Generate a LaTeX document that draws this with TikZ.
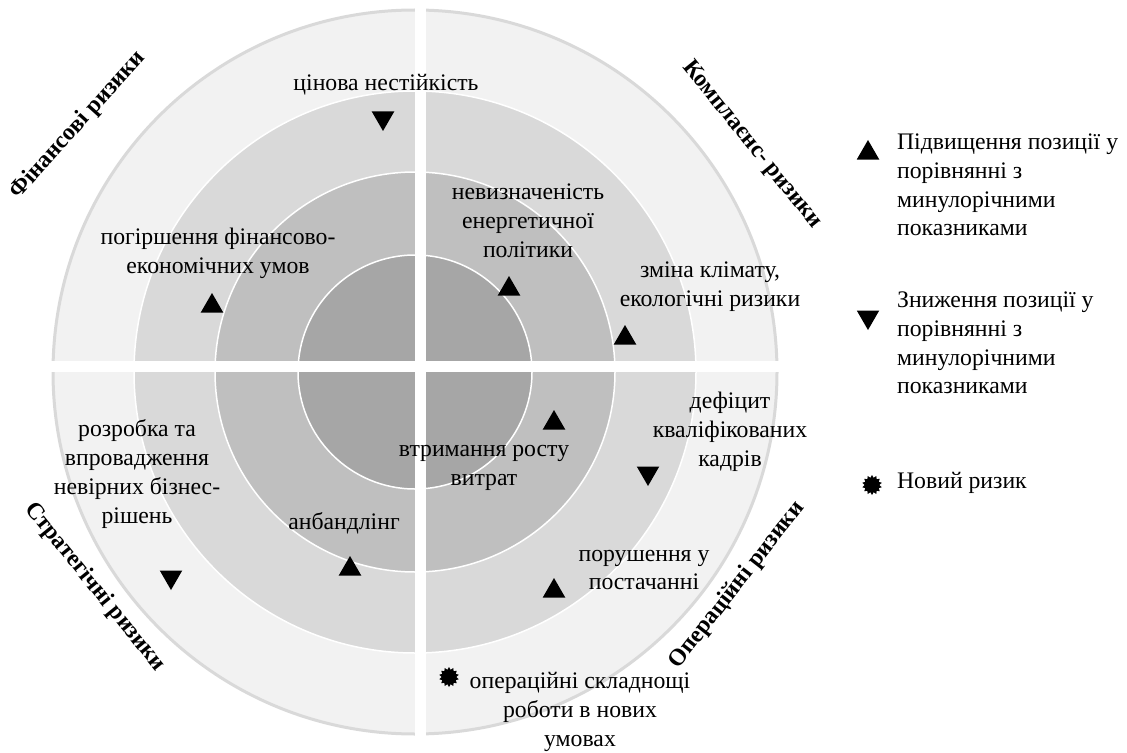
\documentclass[tikz,border=0pt]{standalone}
\usepackage{fontspec}
\setmainfont{Liberation Serif}
\newfontfamily\labelfont{Liberation Serif}
\usetikzlibrary{calc,positioning,shapes.geometric}
\definecolor{ringA}{HTML}{F2F2F2}
\definecolor{ringB}{HTML}{D9D9D9}
\definecolor{ringC}{HTML}{BFBFBF}
\definecolor{ringD}{HTML}{A6A6A6}

\begin{document}
\begin{tikzpicture}[
  x=0.2mm, y=-0.2mm,
  every node/.style={font=\labelfont\fontsize{13.5}{16.4}\selectfont, inner sep=1pt},
  risk/.style={align=center},
  sector/.style={font=\labelfont\fontsize{13.5}{16.4}\selectfont\bfseries},
  legend/.style={align=left, anchor=west},
  upmark/.style={regular polygon, regular polygon sides=3, fill=black, minimum size=5.2mm, inner sep=0pt},
  downmark/.style={upmark, shape border rotate=180},
  newmark/.style={star, star points=14, star point ratio=1.35, fill=black, minimum size=4mm, inner sep=0pt},
  ]
  \useasboundingbox (0,0) rectangle (1127,753);
  \coordinate (c) at (415,372);

  % rings
  \draw[fill=ringA, draw=ringB, line width=0.6mm] (c) circle[radius=362];
  \foreach \r/\col in {281/ringB,200/ringC,117/ringD}
  {
    \draw[fill=\col, draw=white, line width=0.3mm] (c) circle[radius=\r];
  }

  % cross
  \draw[white, line width=2.2mm] (420,0) -- (420,753);
  \draw[white, line width=2.2mm] (30,366) -- (800,366);

  % sectors
  \node[sector, rotate=48] (sec_fin) at (78,125) {Фінансові ризики};
  \node[sector, rotate=-51] (sec_compl) at (752,145) {Комплаєнс- ризики};
  \node[sector, rotate=-51] (sec_strat) at (95,587) {Стратегічні ризики};
  \node[sector, rotate=52] (sec_ops) at (737,585) {Операційні ризики};

  % risks
  \node[risk] (price) at (386,85) {цінова нестійкість};
  \node[downmark] (price_m) at (383,118) {};
  \node[risk] (fin) at (218,253) {погіршення фінансово-\\економічних умов};
  \node[upmark] (fin_m) at (212,306) {};
  \node[risk] (energy) at (528,221) {невизначеність\\енергетичної\\політики};
  \node[upmark] (energy_m) at (509,289) {};
  \node[risk] (climate) at (710,287) {зміна клімату,\\екологічні ризики};
  \node[upmark] (climate_m) at (625,338) {};
  \node[risk] (deficit) at (730,432) {дефіцит\\кваліфікованих\\кадрів};
  \node[downmark] (deficit_m) at (648,473) {};
  \node[risk] (costs) at (484,468) {втримання росту\\витрат};
  \node[upmark] (costs_m) at (554,423) {};
  \node[risk] (unbundling) at (344,523) {анбандлінг};
  \node[upmark] (unbundling_m) at (350,569) {};
  \node[risk] (strategy) at (137,474) {розробка та\\впровадження\\невірних бізнес-\\рішень};
  \node[downmark] (strategy_m) at (171,577) {};
  \node[risk] (supply) at (644,570) {порушення у\\постачанні};
  \node[upmark] (supply_m) at (554,591) {};
  \node[risk] (ops) at (580,712) {операційні складнощі\\роботи в нових\\умовах};
  \node[newmark] (ops_m) at (449,677) {};

  % legend
  \node[upmark] (leg_up_m) at (868,153) {};
  \node[legend] (leg_up) at (895,185) {Підвищення позиції у\\порівнянні з\\минулорічними\\показниками};
  \node[downmark] (leg_down_m) at (868,317) {};
  \node[legend] (leg_down) at (895,343) {Зниження позиції у\\порівнянні з\\минулорічними\\показниками};
  \node[newmark] (leg_new_m) at (872,485) {};
  \node[legend] (leg_new) at (895,483) {Новий ризик};
\end{tikzpicture}
\end{document}
